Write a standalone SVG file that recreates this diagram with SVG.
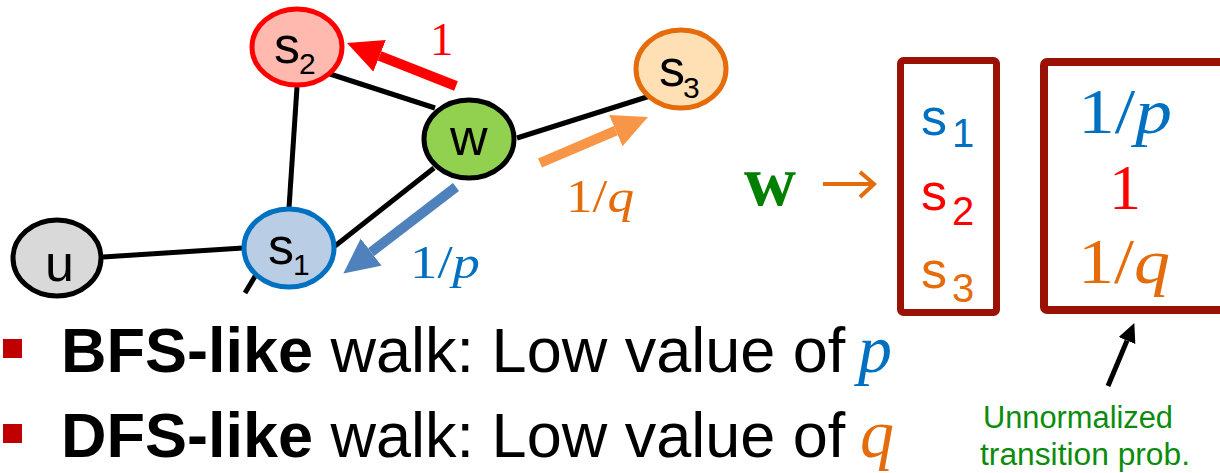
<svg xmlns="http://www.w3.org/2000/svg" width="1220" height="473" viewBox="0 0 1220 473">
<style>
.edge{stroke:#000;stroke-width:5;fill:none}
.node{stroke-width:5}
.lbl{font-family:"Liberation Sans",Arial,sans-serif;font-size:52px}
.sub{font-size:30px}
.math{font-family:"Liberation Serif","Times New Roman",serif}
.it{font-style:italic}
.box{fill:none;stroke:#9A1205}
.txt{font-family:"Liberation Sans",Arial,sans-serif;font-size:63px;fill:#000}
.green{font-family:"Liberation Sans",Arial,sans-serif;font-size:31px;fill:#0C8C0C}
</style>
<defs>
<marker id="hRed" markerUnits="userSpaceOnUse" markerWidth="40" markerHeight="40" refX="0" refY="17" orient="auto"><path d="M0,0 L35,17 L0,34 z" fill="#FF0000"/></marker>
<marker id="hBlue" markerUnits="userSpaceOnUse" markerWidth="40" markerHeight="40" refX="0" refY="17" orient="auto"><path d="M0,0 L35,17 L0,34 z" fill="#4F81BD"/></marker>
<marker id="hOrange" markerUnits="userSpaceOnUse" markerWidth="40" markerHeight="40" refX="0" refY="17" orient="auto"><path d="M0,0 L35,17 L0,34 z" fill="#F79646"/></marker>
<marker id="hBlack" markerUnits="userSpaceOnUse" markerWidth="24" markerHeight="24" refX="0" refY="9" orient="auto"><path d="M0,0 L19,9 L0,18 z" fill="#000"/></marker>
</defs>
<rect width="1220" height="473" fill="#fff"/>
<g id="connectors">
<line class="edge" x1="330" y1="74" x2="435" y2="108"/>
<line class="edge" x1="297" y1="87" x2="289" y2="208"/>
<line class="edge" x1="103" y1="257" x2="243" y2="248"/>
<line class="edge" x1="335" y1="246" x2="434" y2="168"/>
<line class="edge" x1="517" y1="138" x2="650" y2="96"/>
<line class="edge" x1="257" y1="273" x2="245" y2="293"/>
<line x1="456" y1="86" x2="379.6" y2="55.8" stroke="#FF0000" stroke-width="10" marker-end="url(#hRed)"/>
<line x1="456" y1="187" x2="371.1" y2="252.1" stroke="#4F81BD" stroke-width="10" marker-end="url(#hBlue)"/>
<line x1="540" y1="163" x2="615.8" y2="130.7" stroke="#F79646" stroke-width="10" marker-end="url(#hOrange)"/>
<line x1="1108" y1="386" x2="1127" y2="340.6" stroke="#000" stroke-width="5" marker-end="url(#hBlack)"/>
<path d="M823,184 H872 M860,172 L874,184 L860,197" stroke="#E46C0A" stroke-width="4" fill="none"/>
</g>
<g id="node-s2">
<ellipse class="node" cx="297" cy="47" rx="45" ry="38" fill="#FFB9AE" stroke="#FF0000"/>
<text class="lbl" x="274" y="63" fill="#000">s<tspan class="sub" x="299" y="74">2</tspan></text>
</g>
<g id="node-u">
<ellipse class="node" cx="57" cy="258" rx="44" ry="38" fill="#D9D9D9" stroke="#000"/>
<text class="lbl" x="45" y="281" fill="#000">u</text>
</g>
<g id="node-s1">
<ellipse class="node" cx="289" cy="248" rx="45" ry="39" fill="#B9CDE5" stroke="#0070C0"/>
<text class="lbl" x="268" y="264" fill="#000">s<tspan class="sub" x="293" y="275">1</tspan></text>
</g>
<g id="node-w">
<ellipse class="node" cx="469" cy="139" rx="45" ry="39" fill="#92D050" stroke="#000"/>
<text class="lbl" x="450" y="155" fill="#000">w</text>
</g>
<g id="node-s3">
<ellipse class="node" cx="681" cy="69" rx="45" ry="39" fill="#FFE0B5" stroke="#E46C0A"/>
<text class="lbl" x="659" y="86" fill="#000">s<tspan class="sub" x="683" y="98">3</tspan></text>
</g>
<g id="labels">
<text class="math" x="430" y="55" font-size="47" fill="#FF0000">1</text>
<text class="math" x="566" y="212" font-size="47" fill="#E46C0A" textLength="68" lengthAdjust="spacingAndGlyphs">1/<tspan class="it">q</tspan></text>
<text class="math" x="410" y="278" font-size="47" fill="#0070C0" textLength="70" lengthAdjust="spacingAndGlyphs">1/<tspan class="it">p</tspan></text>
</g>
<g id="node-list">
<text class="math" x="744" y="205" font-size="72" font-weight="bold" fill="#007F00">w</text>
<rect class="box" x="900.5" y="60.5" width="96" height="252" rx="3" stroke-width="7"/>
<text class="lbl" x="921" y="135" font-size="66" fill="#0070C0">s<tspan x="952" y="147" font-size="40">1</tspan></text>
<text class="lbl" x="921" y="210" font-size="66" fill="#FF0000">s<tspan x="952" y="225" font-size="40">2</tspan></text>
<text class="lbl" x="921" y="288" font-size="66" fill="#E46C0A">s<tspan x="952" y="302" font-size="40">3</tspan></text>
</g>
<g id="node-probs">
<rect class="box" x="1044" y="62" width="180" height="248" rx="3" stroke-width="8"/>
<text class="math" x="1078" y="133" font-size="64" fill="#0070C0" textLength="94" lengthAdjust="spacingAndGlyphs">1/<tspan class="it">p</tspan></text>
<text class="math" x="1109" y="209" font-size="64" fill="#FF0000">1</text>
<text class="math" x="1078" y="283" font-size="64" fill="#E46C0A" textLength="92" lengthAdjust="spacingAndGlyphs">1/<tspan class="it">q</tspan></text>
</g>
<g id="note">
<text class="green" x="983" y="428" textLength="190" lengthAdjust="spacingAndGlyphs">Unnormalized</text>
<text class="green" x="980" y="465" textLength="210" lengthAdjust="spacingAndGlyphs">transition prob.</text>
</g>
<g id="bullets">
<rect x="3" y="339" width="19" height="19" fill="#C00000"/>
<text class="txt" x="61" y="372"><tspan font-weight="bold">BFS-like</tspan> walk: Low value of </text>
<text class="math it" x="858" y="372" font-size="68" fill="#0070C0">p</text>
<rect x="3" y="424" width="19" height="19" fill="#C00000"/>
<text class="txt" x="61" y="457"><tspan font-weight="bold">DFS-like</tspan> walk: Low value of </text>
<text class="math it" x="860" y="457" font-size="68" fill="#E46C0A">q</text>
</g>
</svg>
